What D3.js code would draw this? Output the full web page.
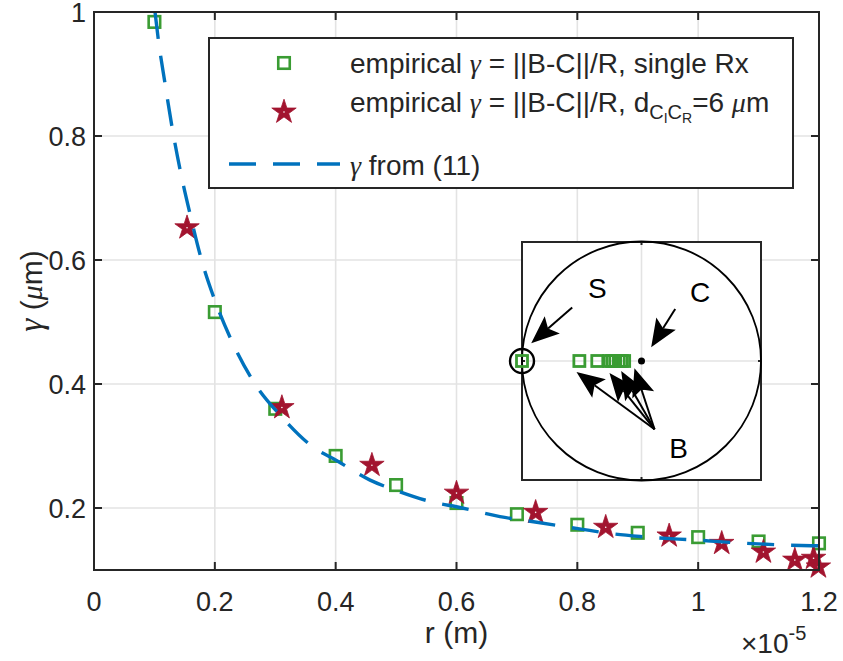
<!DOCTYPE html>
<html><head><meta charset="utf-8">
<script src="https://cdn.jsdelivr.net/npm/d3@7"></script>
<style>
body{margin:0;background:#fff}
text{font-family:"Liberation Sans",Arial,sans-serif;fill:#262626}
.gk{font-family:"Liberation Serif","Times New Roman",serif;font-style:italic}
</style>
</head><body>
<svg id="c" width="843" height="661"></svg>
<script>
// ---------- data (x in units of 1e-5 m, y in µm) ----------
const xTicks = [0, 0.2, 0.4, 0.6, 0.8, 1, 1.2];
const xTickLabels = ["0", "0.2", "0.4", "0.6", "0.8", "1", "1.2"];
const yTicks = [0.2, 0.4, 0.6, 0.8, 1];
const yTickLabels = ["0.2", "0.4", "0.6", "0.8", "1"];

const squareR = [0.1, 0.2, 0.3, 0.4, 0.5, 0.6, 0.7, 0.8, 0.9, 1.0, 1.1, 1.2];
const squareG = [0.984, 0.516, 0.360, 0.284, 0.237, 0.208, 0.190, 0.173, 0.160, 0.153, 0.146, 0.143];

const starR = [0.154, 0.311, 0.460, 0.600, 0.731, 0.847, 0.952, 1.039, 1.108, 1.160, 1.191, 1.199];
const starG = [0.652, 0.362, 0.269, 0.224, 0.193, 0.169, 0.155, 0.143, 0.129, 0.116, 0.119, 0.105];

const curveR = [0.101, 0.1064, 0.1175, 0.1296, 0.1435, 0.160, 0.178, 0.200, 0.2296, 0.2653, 0.3107, 0.3658, 0.4006, 0.457, 0.498, 0.567, 0.600, 0.672, 0.733, 0.806, 0.854, 0.904, 1.0, 1.08, 1.152, 1.2];
const curveG = [1.000, 0.956, 0.885, 0.812, 0.741, 0.670, 0.600, 0.535, 0.466, 0.402, 0.347, 0.296, 0.277, 0.245, 0.229, 0.208, 0.202, 0.186, 0.177, 0.166, 0.159, 0.154, 0.148, 0.143, 0.140, 0.139];

// inset (unit circle coordinates)
const insetSqX = [-1.0, -0.52, -0.37, -0.27, -0.245, -0.22, -0.19, -0.165, -0.145];
const insetSqY = [0, 0, 0, 0, 0, 0, 0, 0, 0];
const insetLabels = ["S", "C", "B"];
const insetLabelX = [-0.37, 0.49, 0.31];
const insetLabelY = [0.61, 0.58, -0.73];
const arrowTailX = [-0.58, 0.282, 0.109, 0.109, 0.109, 0.109];
const arrowTailY = [0.45, 0.437, -0.574, -0.574, -0.574, -0.574];
const arrowTipX = [-0.923, 0.081, -0.544, -0.268, -0.17, -0.059];
const arrowTipY = [0.149, 0.115, -0.092, -0.10, -0.085, -0.061];

const legendLabels = ["empirical ", "empirical ", ""];

// ---------- layout ----------
const svg = d3.select("#c");
const L = 94, R = 819, T = 12, B = 570;
const x = d3.scaleLinear().domain([0, 1.2]).range([L, R]);
const y = d3.scaleLinear().domain([0.1, 1]).range([B, T]);
const axisCol = "#262626", gridCol = "#e3e3e3";
const green = "#3a9c33", red = "#a2142f", blue = "#0072bd";

svg.append("defs").append("clipPath").attr("id", "pc")
  .append("rect").attr("x", L).attr("y", T).attr("width", R - L).attr("height", B - T);

// grid
const g = svg.append("g");
g.selectAll(".gx").data(xTicks.slice(1, -1)).join("line")
  .attr("x1", d => x(d)).attr("x2", d => x(d)).attr("y1", T).attr("y2", B)
  .attr("stroke", gridCol).attr("stroke-width", 1.6);
g.selectAll(".gy").data(yTicks.slice(0, -1)).join("line")
  .attr("y1", d => y(d)).attr("y2", d => y(d)).attr("x1", L).attr("x2", R)
  .attr("stroke", gridCol).attr("stroke-width", 1.6);

// squares
const sqS = 11.5;
svg.append("g").selectAll("rect").data(squareR.map((r, i) => [r, squareG[i]])).join("rect")
  .attr("x", d => x(d[0]) - sqS / 2).attr("y", d => y(d[1]) - sqS / 2)
  .attr("width", sqS).attr("height", sqS)
  .attr("fill", "none").attr("stroke", green).attr("stroke-width", 2.6);

// stars
const star = d3.symbol().type(d3.symbolStar).size(185);
const sg = svg.append("g");
sg.selectAll("path").data(starR.map((r, i) => [r, starG[i]])).join("path")
  .attr("d", star).attr("transform", d => `translate(${x(d[0])},${y(d[1])})`)
  .attr("fill", red).attr("stroke", red).attr("stroke-width", 0.8);
sg.selectAll("circle").data(starR.map((r, i) => [r, starG[i]])).join("circle")
  .attr("cx", d => x(d[0])).attr("cy", d => y(d[1])).attr("r", 0.8).attr("fill", "#fff");

// curve
const line = d3.line().x(d => x(d[0])).y(d => y(d[1])).curve(d3.curveMonotoneX);
svg.append("path").datum(curveR.map((r, i) => [r, curveG[i]]))
  .attr("clip-path", "url(#pc)")
  .attr("d", line).attr("fill", "none").attr("stroke", blue)
  .attr("stroke-width", 3.4).attr("stroke-dasharray", "27,17");

// axes box + ticks
const ax = svg.append("g");
ax.append("rect").attr("x", L).attr("y", T).attr("width", R - L).attr("height", B - T)
  .attr("fill", "none").attr("stroke", axisCol).attr("stroke-width", 2);
const tk = 8;
xTicks.forEach(t => {
  ax.append("line").attr("x1", x(t)).attr("x2", x(t)).attr("y1", B).attr("y2", B - tk).attr("stroke", axisCol).attr("stroke-width", 2);
  ax.append("line").attr("x1", x(t)).attr("x2", x(t)).attr("y1", T).attr("y2", T + tk).attr("stroke", axisCol).attr("stroke-width", 2);
});
yTicks.forEach(t => {
  ax.append("line").attr("y1", y(t)).attr("y2", y(t)).attr("x1", L).attr("x2", L + tk).attr("stroke", axisCol).attr("stroke-width", 2);
  ax.append("line").attr("y1", y(t)).attr("y2", y(t)).attr("x1", R).attr("x2", R - tk).attr("stroke", axisCol).attr("stroke-width", 2);
});
const fs = 27;
ax.selectAll(".xl").data(xTicks).join("text")
  .attr("x", d => x(d)).attr("y", 611).attr("text-anchor", "middle")
  .attr("font-size", fs).text((d, i) => xTickLabels[i]);
ax.selectAll(".yl").data(yTicks).join("text")
  .attr("x", 86).attr("y", d => y(d) + 9.5).attr("text-anchor", "end")
  .attr("font-size", fs).text((d, i) => yTickLabels[i]);

// axis labels
svg.append("text").attr("x", x(0.6)).attr("y", 643).attr("text-anchor", "middle")
  .attr("font-size", 30).text("r (m)");
const yl = svg.append("text").attr("transform", `translate(42,${(T + B) / 2}) rotate(-90)`)
  .attr("text-anchor", "middle").attr("font-size", 30);
yl.append("tspan").attr("class", "gk").attr("font-size", 33).text("γ");
yl.append("tspan").text(" (");
yl.append("tspan").attr("class", "gk").text("μ");
yl.append("tspan").text("m)");
const ex = svg.append("text").attr("x", 741).attr("y", 653).attr("font-size", 28);
ex.append("tspan").text("×10");
ex.append("tspan").attr("font-size", 20).attr("dy", -13).text("-5");

// ---------- legend ----------
const lg = svg.append("g");
lg.append("rect").attr("x", 209).attr("y", 38).attr("width", 584).attr("height", 150)
  .attr("fill", "#fff").attr("stroke", axisCol).attr("stroke-width", 2);
lg.append("rect").attr("x", 284 - sqS / 2).attr("y", 63 - sqS / 2).attr("width", sqS).attr("height", sqS)
  .attr("fill", "none").attr("stroke", green).attr("stroke-width", 2.6);
lg.append("path").attr("d", star).attr("transform", "translate(284,112)")
  .attr("fill", red).attr("stroke", red).attr("stroke-width", 0.8);
lg.append("circle").attr("cx", 284).attr("cy", 112).attr("r", 0.8).attr("fill", "#fff");
lg.append("line").attr("x1", 229).attr("x2", 340).attr("y1", 164).attr("y2", 164)
  .attr("stroke", blue).attr("stroke-width", 3.4).attr("stroke-dasharray", "27,17");
const lfs = 28;
const t1 = lg.append("text").attr("x", 350).attr("y", 73).attr("font-size", lfs);
t1.append("tspan").text(legendLabels[0]);
t1.append("tspan").attr("class", "gk").text("γ");
t1.append("tspan").text(" = ||B-C||/R, single Rx");
const t2 = lg.append("text").attr("x", 350).attr("y", 112).attr("font-size", lfs);
t2.append("tspan").text(legendLabels[1]);
t2.append("tspan").attr("class", "gk").text("γ");
t2.append("tspan").text(" = ||B-C||/R, d");
t2.append("tspan").attr("font-size", 20).attr("dy", 7).text("C");
t2.append("tspan").attr("font-size", 14).attr("dy", 4).text("I");
t2.append("tspan").attr("font-size", 20).attr("dy", -4).text("C");
t2.append("tspan").attr("font-size", 14).attr("dy", 4).text("R");
t2.append("tspan").attr("dy", -11).text("=6 ");
t2.append("tspan").attr("class", "gk").text("μ");
t2.append("tspan").text("m");
const t3 = lg.append("text").attr("x", 350).attr("y", 175).attr("font-size", lfs);
t3.append("tspan").attr("class", "gk").text("γ");
t3.append("tspan").text(" from (11)");

// ---------- inset ----------
const iL = 522, iR = 761, iT = 242, iB = 480;
const ix = d3.scaleLinear().domain([-1, 1]).range([iL, iR]);
const iy = d3.scaleLinear().domain([-1, 1]).range([iB, iT]);
const ins = svg.append("g");
ins.append("rect").attr("x", iL).attr("y", iT).attr("width", iR - iL).attr("height", iB - iT).attr("fill", "#fff");
ins.append("line").attr("x1", ix(0)).attr("x2", ix(0)).attr("y1", iT).attr("y2", iB).attr("stroke", gridCol).attr("stroke-width", 1.6);
ins.append("line").attr("y1", iy(0)).attr("y2", iy(0)).attr("x1", iL).attr("x2", iR).attr("stroke", gridCol).attr("stroke-width", 1.6);
ins.append("rect").attr("x", iL).attr("y", iT).attr("width", iR - iL).attr("height", iB - iT)
  .attr("fill", "none").attr("stroke", axisCol).attr("stroke-width", 2);
[[ix(0), iT, ix(0), iT + 3], [ix(0), iB, ix(0), iB - 3], [iL, iy(0), iL + 3, iy(0)], [iR, iy(0), iR - 3, iy(0)]]
  .forEach(s => ins.append("line").attr("x1", s[0]).attr("y1", s[1]).attr("x2", s[2]).attr("y2", s[3]).attr("stroke", axisCol).attr("stroke-width", 2));
ins.append("circle").attr("cx", ix(0)).attr("cy", iy(0)).attr("r", ix(1) - ix(0))
  .attr("fill", "none").attr("stroke", "#000").attr("stroke-width", 1.8);
ins.selectAll(".isq").data(insetSqX.map((v, i) => [v, insetSqY[i]])).join("rect")
  .attr("x", d => ix(d[0]) - 5.5).attr("y", d => iy(d[1]) - 5.5).attr("width", 11).attr("height", 11)
  .attr("fill", "none").attr("stroke", green).attr("stroke-width", 2.8);
ins.append("circle").attr("cx", ix(-1)).attr("cy", iy(0)).attr("r", 12)
  .attr("fill", "none").attr("stroke", "#000").attr("stroke-width", 2.4);
ins.append("circle").attr("cx", ix(0)).attr("cy", iy(0)).attr("r", 3.5).attr("fill", "#000");
insetLabels.forEach((s, i) => {
  ins.append("text").attr("x", ix(insetLabelX[i])).attr("y", iy(insetLabelY[i]) + 10)
    .attr("text-anchor", "middle").attr("font-size", 28).style("fill", "#000").text(s);
});
// arrows
arrowTailX.forEach((tx, i) => {
  const x0 = ix(tx), y0 = iy(arrowTailY[i]), x1 = ix(arrowTipX[i]), y1 = iy(arrowTipY[i]);
  const dx = x1 - x0, dy = y1 - y0, len = Math.hypot(dx, dy);
  const ux = dx / len, uy = dy / len, nx = -uy, ny = ux;
  const HL = 28, HW = 11.5, NT = 0.8 * HL;
  const bx = x1 - HL * ux, by = y1 - HL * uy;
  const notchX = x1 - NT * ux, notchY = y1 - NT * uy;
  ins.append("line").attr("x1", x0).attr("y1", y0).attr("x2", notchX).attr("y2", notchY)
    .attr("stroke", "#000").attr("stroke-width", 2);
  ins.append("path").attr("d", `M${x1},${y1}L${bx + HW * nx},${by + HW * ny}L${notchX},${notchY}L${bx - HW * nx},${by - HW * ny}Z`)
    .attr("fill", "#000");
});
</script>
</body></html>
